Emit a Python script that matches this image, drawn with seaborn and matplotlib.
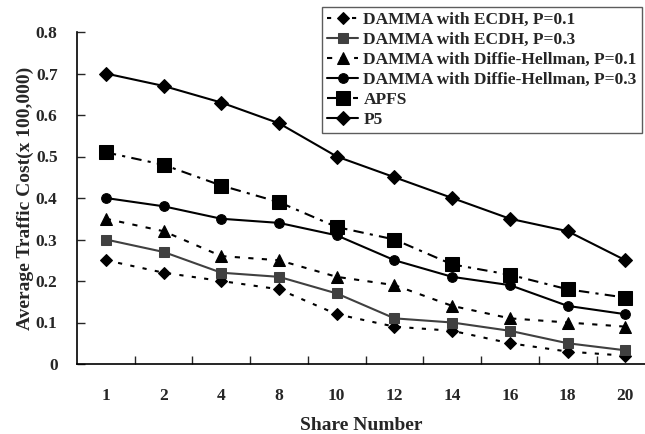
import matplotlib
matplotlib.use("Agg")
import matplotlib.pyplot as plt
import seaborn as sns
import numpy as np
import pandas as pd

share_numbers = ["1", "2", "4", "8", "10", "12", "14", "16", "18", "20"]
ecdh_p01 = [0.25, 0.22, 0.20, 0.18, 0.12, 0.09, 0.08, 0.05, 0.03, 0.02]
ecdh_p03 = [0.30, 0.27, 0.22, 0.21, 0.17, 0.11, 0.10, 0.08, 0.05, 0.033]
dh_p01 = [0.35, 0.32, 0.26, 0.25, 0.21, 0.19, 0.14, 0.11, 0.10, 0.09]
dh_p03 = [0.40, 0.38, 0.35, 0.34, 0.31, 0.25, 0.21, 0.19, 0.14, 0.12]
apfs = [0.51, 0.48, 0.43, 0.39, 0.33, 0.30, 0.24, 0.215, 0.18, 0.16]
p5 = [0.70, 0.67, 0.63, 0.58, 0.50, 0.45, 0.40, 0.35, 0.32, 0.25]

series_names = [
    "DAMMA with ECDH, P=0.1",
    "DAMMA with ECDH, P=0.3",
    "DAMMA with Diffie-Hellman, P=0.1",
    "DAMMA with Diffie-Hellman, P=0.3",
    "APFS",
    "P5",
]
series_values = [ecdh_p01, ecdh_p03, dh_p01, dh_p03, apfs, p5]

styles = [
    dict(color="black", linestyle=(0, (2, 4)), marker="D", markersize=6),
    dict(color="#404040", linestyle="-", marker="s", markersize=7),
    dict(color="black", linestyle=(0, (2.5, 4)), marker="^", markersize=8),
    dict(color="black", linestyle="-", marker="o", markersize=7),
    dict(color="black", linestyle=(0, (5, 3, 1.5, 3)), marker="s", markersize=10),
    dict(color="black", linestyle="-", marker="D", markersize=7),
]

sns.set_style("ticks")
plt.rcParams["font.family"] = ["Liberation Serif", "DejaVu Serif"]
plt.rcParams["font.weight"] = "bold"

fig = plt.figure(figsize=(6.45, 4.34), dpi=100)
ax = fig.add_axes([77 / 645, 70 / 434, 1 - 77 / 645, 332 / 434])

pos = np.arange(len(share_numbers))
for name, vals, st in zip(series_names, series_values, styles):
    df = pd.DataFrame({"x": pos, "y": vals})
    sns.lineplot(data=df, x="x", y="y", ax=ax, label=name, linewidth=1.5,
                 markeredgecolor=st["color"], **st)

ax.set_xlim(-0.5, 9.34)
ax.set_ylim(0, 0.8)
ax.set_yticks(np.arange(0, 0.81, 0.1))
ax.set_yticklabels(["0"] + [f"{v:.1f}" for v in np.arange(0.1, 0.81, 0.1)],
                   fontsize=12.5, fontweight="bold")
ax.set_xticks(np.arange(0.5, 9.5, 1.0))
ax.set_xticklabels([])
ax.set_xticks(pos, minor=True)
ax.set_xticklabels(share_numbers, minor=True, fontsize=12.5, fontweight="bold")
ax.tick_params(axis="x", which="major", direction="in", length=6, width=1)
ax.tick_params(axis="x", which="minor", length=0, pad=17)
ax.tick_params(axis="y", direction="in", length=6, width=1, pad=14)

for s in ["top", "right"]:
    ax.spines[s].set_visible(False)
for s in ["left", "bottom"]:
    ax.spines[s].set_linewidth(1.2)
    ax.spines[s].set_color("black")

ax.set_xlabel("Share Number", fontsize=14, fontweight="bold", labelpad=10)
ax.set_ylabel("Average Traffic Cost(x 100,000)", fontsize=14, fontweight="bold", labelpad=1)

leg = ax.legend(loc="upper right", bbox_to_anchor=(642 / 645, 1 - 7 / 434),
                bbox_transform=fig.transFigure, frameon=True, fancybox=False,
                fontsize=12.5, handlelength=1.8, handletextpad=0.3,
                labelspacing=0.22, borderpad=0.3, borderaxespad=0)
leg.get_frame().set_edgecolor("#333333")
leg.get_frame().set_linewidth(1.0)
for t in leg.get_texts():
    t.set_fontweight("bold")

fig.savefig("out.png", dpi=100)
